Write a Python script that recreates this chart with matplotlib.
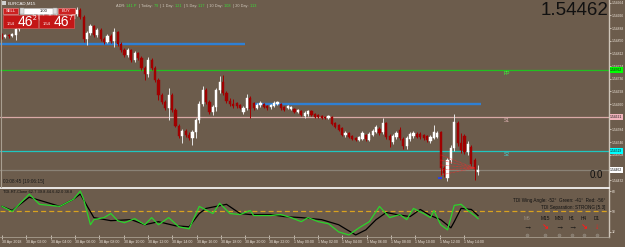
import numpy as np
import matplotlib
matplotlib.use("Agg")
import matplotlib.pyplot as plt
import matplotlib.transforms as mtransforms
from matplotlib.patches import Rectangle
from matplotlib.ticker import MultipleLocator, FuncFormatter

plt.rcParams['font.family'] = ['Liberation Sans', 'DejaVu Sans']

# EURCAD M15 candles
opens = [
    1.54867, 1.54861, 1.54867, 1.54864, 1.54867, 1.54885, 1.54900, 1.54912, 1.54903, 1.54918,
    1.54927, 1.54915, 1.54930, 1.54936, 1.54924, 1.54936, 1.54930, 1.54939, 1.54933, 1.54942,
    1.54933, 1.54915, 1.54930, 1.54942, 1.54921, 1.54855, 1.54873, 1.54894, 1.54867, 1.54882,
    1.54855, 1.54846, 1.54864, 1.54849, 1.54876, 1.54840, 1.54822, 1.54807, 1.54822, 1.54792,
    1.54813, 1.54798, 1.54768, 1.54750, 1.54792, 1.54768, 1.54732, 1.54687, 1.54666, 1.54648,
    1.54687, 1.54642, 1.54594, 1.54564, 1.54579, 1.54567, 1.54558, 1.54576, 1.54612, 1.54660,
    1.54702, 1.54666, 1.54636, 1.54651, 1.54702, 1.54726, 1.54693, 1.54669, 1.54660, 1.54663,
    1.54657, 1.54636, 1.54648, 1.54678, 1.54663, 1.54648, 1.54657, 1.54660, 1.54654, 1.54651,
    1.54654, 1.54660, 1.54660, 1.54651, 1.54648, 1.54645, 1.54645, 1.54636, 1.54639, 1.54624,
    1.54630, 1.54639, 1.54630, 1.54627, 1.54624, 1.54621, 1.54618, 1.54621, 1.54603, 1.54597,
    1.54588, 1.54567, 1.54573, 1.54564, 1.54558, 1.54552, 1.54555, 1.54567, 1.54552, 1.54567,
    1.54576, 1.54585, 1.54576, 1.54603, 1.54564, 1.54546, 1.54561, 1.54582, 1.54555, 1.54534,
    1.54555, 1.54564, 1.54570, 1.54570, 1.54567, 1.54564, 1.54549, 1.54558, 1.54561, 1.54576,
    1.54468, 1.54438, 1.54492, 1.54528, 1.54603, 1.54543, 1.54564, 1.54516, 1.54531, 1.54492,
    1.54456]
highs = [
    1.54873, 1.54870, 1.54870, 1.54873, 1.54891, 1.54906, 1.54918, 1.54918, 1.54924, 1.54933,
    1.54933, 1.54936, 1.54942, 1.54942, 1.54942, 1.54942, 1.54945, 1.54945, 1.54948, 1.54948,
    1.54939, 1.54936, 1.54951, 1.54948, 1.54927, 1.54879, 1.54900, 1.54897, 1.54888, 1.54888,
    1.54861, 1.54870, 1.54870, 1.54888, 1.54879, 1.54846, 1.54828, 1.54828, 1.54825, 1.54819,
    1.54816, 1.54804, 1.54774, 1.54801, 1.54798, 1.54774, 1.54738, 1.54693, 1.54672, 1.54708,
    1.54693, 1.54648, 1.54600, 1.54585, 1.54585, 1.54576, 1.54582, 1.54618, 1.54669, 1.54714,
    1.54708, 1.54672, 1.54657, 1.54708, 1.54744, 1.54747, 1.54699, 1.54678, 1.54675, 1.54666,
    1.54660, 1.54654, 1.54690, 1.54684, 1.54666, 1.54663, 1.54669, 1.54663, 1.54657, 1.54660,
    1.54669, 1.54669, 1.54663, 1.54654, 1.54657, 1.54654, 1.54648, 1.54645, 1.54642, 1.54639,
    1.54642, 1.54642, 1.54633, 1.54630, 1.54627, 1.54624, 1.54627, 1.54624, 1.54606, 1.54600,
    1.54591, 1.54579, 1.54576, 1.54567, 1.54561, 1.54564, 1.54579, 1.54570, 1.54576, 1.54585,
    1.54597, 1.54591, 1.54618, 1.54606, 1.54570, 1.54570, 1.54579, 1.54591, 1.54561, 1.54564,
    1.54576, 1.54579, 1.54576, 1.54576, 1.54570, 1.54567, 1.54567, 1.54597, 1.54579, 1.54579,
    1.54474, 1.54498, 1.54537, 1.54630, 1.54609, 1.54573, 1.54570, 1.54549, 1.54537, 1.54498,
    1.54477]
lows = [
    1.54855, 1.54858, 1.54858, 1.54861, 1.54852, 1.54879, 1.54894, 1.54897, 1.54900, 1.54912,
    1.54909, 1.54912, 1.54924, 1.54918, 1.54921, 1.54924, 1.54927, 1.54927, 1.54930, 1.54927,
    1.54909, 1.54909, 1.54924, 1.54915, 1.54846, 1.54837, 1.54867, 1.54861, 1.54861, 1.54849,
    1.54840, 1.54843, 1.54843, 1.54831, 1.54834, 1.54816, 1.54801, 1.54801, 1.54786, 1.54786,
    1.54792, 1.54762, 1.54732, 1.54741, 1.54762, 1.54726, 1.54672, 1.54660, 1.54642, 1.54612,
    1.54636, 1.54591, 1.54558, 1.54543, 1.54561, 1.54552, 1.54537, 1.54558, 1.54603, 1.54654,
    1.54660, 1.54630, 1.54627, 1.54639, 1.54693, 1.54687, 1.54663, 1.54654, 1.54648, 1.54648,
    1.54645, 1.54630, 1.54642, 1.54618, 1.54642, 1.54645, 1.54651, 1.54648, 1.54642, 1.54645,
    1.54651, 1.54657, 1.54642, 1.54639, 1.54645, 1.54642, 1.54633, 1.54633, 1.54624, 1.54618,
    1.54624, 1.54624, 1.54618, 1.54618, 1.54615, 1.54615, 1.54615, 1.54597, 1.54588, 1.54579,
    1.54564, 1.54561, 1.54558, 1.54552, 1.54549, 1.54549, 1.54552, 1.54549, 1.54549, 1.54564,
    1.54573, 1.54567, 1.54570, 1.54555, 1.54531, 1.54540, 1.54555, 1.54552, 1.54525, 1.54525,
    1.54549, 1.54558, 1.54558, 1.54555, 1.54552, 1.54546, 1.54543, 1.54555, 1.54558, 1.54447,
    1.54441, 1.54429, 1.54483, 1.54519, 1.54534, 1.54513, 1.54510, 1.54507, 1.54474, 1.54432,
    1.54447]
closes = [
    1.54861, 1.54867, 1.54864, 1.54870, 1.54885, 1.54900, 1.54912, 1.54903, 1.54918, 1.54927,
    1.54915, 1.54930, 1.54936, 1.54924, 1.54936, 1.54930, 1.54939, 1.54933, 1.54942, 1.54933,
    1.54915, 1.54930, 1.54942, 1.54921, 1.54855, 1.54873, 1.54894, 1.54867, 1.54882, 1.54855,
    1.54846, 1.54864, 1.54849, 1.54876, 1.54840, 1.54822, 1.54807, 1.54822, 1.54792, 1.54813,
    1.54798, 1.54768, 1.54750, 1.54792, 1.54768, 1.54732, 1.54687, 1.54666, 1.54648, 1.54687,
    1.54642, 1.54594, 1.54564, 1.54579, 1.54567, 1.54558, 1.54576, 1.54612, 1.54660, 1.54702,
    1.54666, 1.54636, 1.54651, 1.54702, 1.54726, 1.54693, 1.54669, 1.54660, 1.54654, 1.54654,
    1.54648, 1.54648, 1.54678, 1.54645, 1.54648, 1.54657, 1.54663, 1.54651, 1.54648, 1.54657,
    1.54663, 1.54666, 1.54648, 1.54642, 1.54654, 1.54651, 1.54636, 1.54642, 1.54627, 1.54633,
    1.54639, 1.54627, 1.54621, 1.54621, 1.54618, 1.54618, 1.54624, 1.54600, 1.54591, 1.54582,
    1.54567, 1.54573, 1.54561, 1.54555, 1.54552, 1.54561, 1.54573, 1.54555, 1.54570, 1.54579,
    1.54591, 1.54573, 1.54603, 1.54561, 1.54552, 1.54564, 1.54573, 1.54558, 1.54534, 1.54558,
    1.54570, 1.54573, 1.54561, 1.54561, 1.54558, 1.54552, 1.54561, 1.54576, 1.54573, 1.54468,
    1.54453, 1.54492, 1.54528, 1.54606, 1.54543, 1.54522, 1.54516, 1.54540, 1.54480, 1.54465,
    1.54462]
ask = 1.54467

# horizontal levels
blue_top = 1.54840
blue_low = 1.54660
green_lvl = 1.54762
pink_lvl = 1.54621
cyan_lvl = 1.54519
level_names = ["PP", "S1", "S2"]

# red dotted fan on the last drop
fan_start = [1.54507, 1.54492, 1.54477, 1.54462, 1.54447]
fan_end = 1.54468

# TDI sub-window
green_idx = [0, 3, 8, 11, 17, 21, 23, 24, 26, 27, 30, 32, 34, 36, 39, 42, 44, 46, 49, 52,
             55, 58, 62, 64, 67, 70, 73, 74, 79, 82, 85, 88, 90, 93, 96, 99, 102, 105, 108, 111,
             114, 117, 119, 121, 124, 126, 127, 129, 131, 133, 135, 137, 139, 140]
green_val = [54.5, 50, 65.3, 56.3, 54.5, 60.8, 68, 60.8, 38.3, 42.8, 44.6, 48.2, 41.9, 40.1, 43.7,
             38.3, 44.6, 38.3, 44.6, 36.5, 34.7, 54.5, 48.2, 57.2, 48.2, 47.3, 50.9, 46.4, 46.4, 47.3,
             44.6, 41, 44.6, 41, 39.2, 32, 29.3, 35.6, 41, 54.5, 44.6, 47.3, 42.8, 52.7, 48.2, 44.6,
             50.9, 38.3, 33.8, 55.4, 56.3, 50.9, 46.4, 43.7]
black_idx = [0, 3, 8, 13, 17, 21, 23, 27, 32, 38, 42, 46, 51, 55, 58, 60, 66, 70, 73, 79,
             83, 88, 94, 99, 104, 107, 110, 113, 116, 120, 123, 126, 129, 132, 133, 135, 138, 140]
black_val = [54.5, 50.9, 62.6, 58.1, 54.5, 60.8, 65.3, 44.6, 41.9, 42.8, 38.3, 41, 37.4, 36.5, 48.2,
             52.7, 56.3, 48.2, 47.3, 47.3, 45.5, 44.6, 42.8, 38.3, 29.3, 33.8, 42.8, 49.1, 47.3, 45.5,
             51.8, 46.4, 42.8, 35.6, 41, 52.7, 51.8, 46.4]
tdi_mid = 50

time_labels = ["30 Apr 2018"] + ["30 Apr %02d:00" % hh for hh in range(2, 24, 2)] + \
              ["1 May %02d:00" % hh for hh in range(0, 16, 2)]

adr_parts = [("ADR:", "141 P"), ("| Today:", "79"), ("| 1 Day:", "121"),
             ("| 5 Day:", "117"), ("| 10 Day:", "108"), ("| 20 Day:", "113")]
timeframes = ["M5", "M15", "M30", "H1", "H4", "D1"]
tf_arrows = ["→", "↘", "→", "→", "↘", "↓"]
tf_colors = ["#111111", "#ff1a1a", "#111111", "#111111", "#ff1a1a", "#ff1a1a"]

BG = "#6c5c4c"
RED = "#a00000"
LIGHT = "#ece4da"

W, H = 625, 247
fig = plt.figure(figsize=(W / 100, H / 100), dpi=100, facecolor=BG)


def frac(x0, y0, x1, y1):
    return [x0 / W, 1 - y1 / H, (x1 - x0) / W, (y1 - y0) / H]


ax = fig.add_axes(frac(0, 0, 609, 187))
ax2 = fig.add_axes(frac(0, 188, 609, 237))
for a in (ax, ax2):
    a.set_facecolor(BG)
    a.set_xlim(-0.6, 178.5)
    for s in ("top", "bottom", "left"):
        a.spines[s].set_visible(False)
    a.spines["right"].set_color("#cfc6ba")
    a.spines["right"].set_linewidth(1)
    a.yaxis.tick_right()
    a.tick_params(axis="y", labelsize=2.4, colors=LIGHT, length=1.5, width=0.5, pad=0.6)

# candles
o = np.array(opens)
h = np.array(highs)
l = np.array(lows)
c = np.array(closes)
idx = np.arange(len(c))
up = c >= o
ax.vlines(idx[up], l[up], h[up], color="#e6e6e6", lw=0.7, zorder=3)
ax.vlines(idx[~up], l[~up], h[~up], color=RED, lw=0.7, zorder=3)
body = np.where(np.abs(c - o) < 0.00002, np.where(up, 0.00002, -0.00002), c - o)
ax.bar(idx, body, bottom=o, width=0.62, color=np.where(up, "#ffffff", RED),
       edgecolor=np.where(up, "#ffffff", RED), lw=0.3, zorder=4)

badges = [(green_lvl, "#00ff00"), (pink_lvl, "#f2b4bc"), (cyan_lvl, "#00ffff"), (c[-1], "#ffffff")]


def price_fmt(v, pos):
    # the badges sit on top of the scale, so leave those ticks unlabeled
    if any(abs(v - b) < 0.00009 for b, _ in badges):
        return ""
    return "%.5f" % v


ax.set_ylim(1.54411, 1.54972)
ax.yaxis.set_major_locator(MultipleLocator(0.00038))
ax.yaxis.set_major_formatter(FuncFormatter(price_fmt))
ax.set_xticks([])

# levels
ax.hlines(blue_top, -0.6, 71.5, color="#2f80d4", lw=1.7, zorder=2)
ax.hlines(blue_top - 0.00006, -0.6, 71.5, color="#8a5a2e", lw=0.6, zorder=2)
ax.hlines(blue_low, 74.4, 141, color="#2f80d4", lw=1.7, zorder=2)
ax.axhline(green_lvl, color="#1fc21f", lw=0.9, zorder=2)
ax.axhline(pink_lvl, color="#d9a9a6", lw=0.9, zorder=2)
ax.axhline(cyan_lvl, color="#1fc6c0", lw=0.9, zorder=2)
ax.axhline(c[-1], color="#8a8276", lw=0.9, zorder=2)
for lvl, name, col in zip([green_lvl, pink_lvl, cyan_lvl], level_names,
                          ["#3cff3c", "#e0b4b4", "#3ee0e0"]):
    ax.text(148.5, lvl - 0.00009, name, color=col, fontsize=3.5, ha="center", va="center", zorder=5)

for s in fan_start:
    ax.plot([129, 139], [s, fan_end], color="#ff2626", lw=0.5, ls=(0, (1, 1)), zorder=5)
ax.hlines(1.54438, 128.3, 129.5, color="#2040ff", lw=1.2, zorder=6)

# right axis badges
tr = mtransforms.blended_transform_factory(ax.transAxes, ax.transData)
for lvl, fc in badges:
    ax.text(1.002, lvl, "%.5f" % lvl, transform=tr, fontsize=2.4, ha="left", va="center", color="#111111",
            bbox=dict(boxstyle="square,pad=0.2", fc=fc, ec="none"), zorder=8, clip_on=False)

# TDI window
ax2.plot(black_idx, black_val, color="#000000", lw=0.9, zorder=3)
ax2.plot(green_idx, green_val, color="#2bd42b", lw=0.9, zorder=4)
ax2.axhline(tdi_mid, color="#d9a21f", lw=0.9, ls=(0, (4, 2.5)), zorder=2)
ax2.set_ylim(27.5, 70.7)
ax2.set_yticks([32, 50, 68])
ax2.set_yticklabels(["32", "50", "68"])
ax2.spines["top"].set_visible(True)
ax2.spines["top"].set_color("#ffffff")
ax2.spines["top"].set_linewidth(1.2)
ax2.spines["bottom"].set_visible(True)
ax2.spines["bottom"].set_color("#a89e90")
ax2.spines["bottom"].set_linewidth(0.6)
ax2.set_xticks(np.arange(len(time_labels)) * 7.15)
ax2.set_xticklabels(time_labels, fontsize=2.6, color=LIGHT, ha="left")
ax2.tick_params(axis="x", length=3, width=0.5, colors=LIGHT, pad=0.5, direction="inout")

# overlay in pixel space for the terminal widgets
ov = fig.add_axes([0, 0, 1, 1])
ov.set_xlim(0, W)
ov.set_ylim(H, 0)
ov.axis("off")
ov.patch.set_visible(False)
ov.set_zorder(10)

ov.plot([1, 1], [0, 187], color="#a89e90", lw=0.8)
ov.text(8, 3.5, "EURCAD,M15", fontsize=3.2, color="#ffffff", va="center")
ov.add_patch(Rectangle((2, 1.5), 4, 4, fc="#d0d0d0", ec="none"))

# ADR strip: lay pieces out one after another
renderer = fig.canvas.get_renderer()
inv = ov.transData.inverted()
x = 116
for lab, val in adr_parts:
    t1 = ov.text(x, 6, lab + " ", fontsize=2.8, color="#cfc7bb", va="center")
    bb = t1.get_window_extent(renderer)
    x = inv.transform((bb.x1, 0))[0]
    t2 = ov.text(x, 6, val + "  ", fontsize=2.8, color="#38e038", va="center")
    bb = t2.get_window_extent(renderer)
    x = inv.transform((bb.x1, 0))[0]

# one-click trading panel
ov.add_patch(Rectangle((3, 8), 15, 6, fc="#cc2020", ec="#ff9a9a", lw=0.4))
ov.text(10.5, 11, "SELL", fontsize=3.0, color="white", ha="center", va="center")
ov.add_patch(Rectangle((20, 8), 37, 6, fc="#ffffff", ec="#bbbbbb", lw=0.4))
ov.add_patch(Rectangle((20, 8), 4, 6, fc="#dddddd", ec="#999999", lw=0.3))
ov.add_patch(Rectangle((53, 8), 4, 6, fc="#dddddd", ec="#999999", lw=0.3))
ov.text(44, 11, "1.00", fontsize=3.0, color="#111111", ha="center", va="center")
ov.add_patch(Rectangle((58, 8), 17, 6, fc="#cc2020", ec="#ff9a9a", lw=0.4))
ov.text(66.5, 11, "BUY", fontsize=3.0, color="white", ha="center", va="center")
bid_s = "%.5f" % c[-1]
ask_s = "%.5f" % ask
for x0, s in [(3, bid_s), (39, ask_s)]:
    ov.add_patch(Rectangle((x0, 15), 35, 13, fc="#c41616", ec="#e86060", lw=0.4))
    ov.text(x0 + 4, 24, s[:4], fontsize=3.0, color="white", va="center")
    ov.text(x0 + 15, 22.3, s[4:6], fontsize=10, color="white", va="center")
    ov.text(x0 + 30, 18.5, s[6], fontsize=4.8, color="white", va="center")

ov.text(608, 10.5, bid_s, fontsize=13.5, color="#111111", ha="right", va="center")
ov.text(596, 174.5, "0.0", fontsize=7, color="#111111", ha="center", va="center")
ov.text(3, 181.5, "00:08:45 [19:06:15]", fontsize=3.4, color="#1a1a1a", va="center")
ov.text(3, 192, "TDI-RT-Clone 62.7 39.8 44.6 42.0 38.8", fontsize=2.9, color="#111111", va="center")

ov.text(605, 200, "TDI Wing Angle: -52°  Green: -41°  Red: -56°", fontsize=3.3, color="#111111",
        ha="right", va="center")
ov.text(605, 207, "TDI Separation: STRONG [5.3]", fontsize=3.3, color="#111111", ha="right", va="center")
tf_x = [527, 545, 559, 572, 584, 597]
for i, (x, tf) in enumerate(zip(tf_x, timeframes)):
    ov.text(x, 218, tf, fontsize=3.4, color="#9a8e80" if i == 0 else "#111111", ha="center", va="center")
    ov.text(x, 227.5, tf_arrows[i], fontsize=6, color=tf_colors[i], ha="center", va="center",
            fontweight="bold")
    ov.plot(x, 235, "o", ms=2.2, color="#84796c", mec="#9a9084", mew=0.3)

fig.savefig("out.png", dpi=100, facecolor=BG)
